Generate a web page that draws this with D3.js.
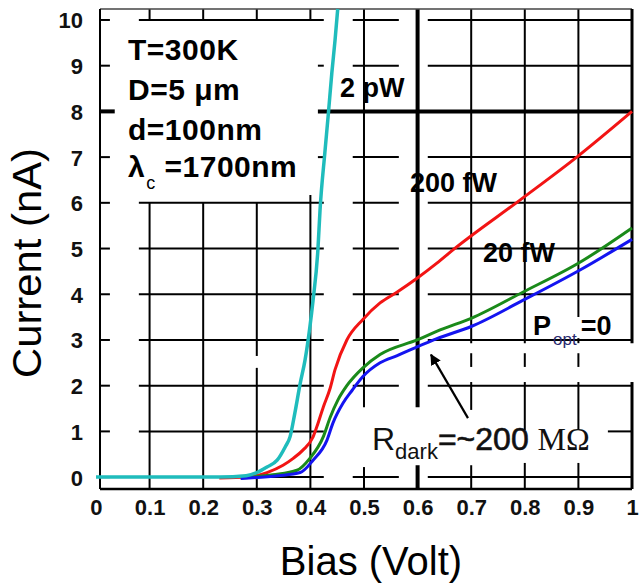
<!DOCTYPE html>
<html>
<head>
<meta charset="utf-8">
<script src="https://cdn.jsdelivr.net/npm/d3@7"></script>
<style>
  html, body { margin: 0; padding: 0; background: #fff; }
  svg { display: block; font-family: "Liberation Sans", Arial, sans-serif; }
</style>
</head>
<body>
<svg id="chart" width="640" height="583"></svg>
<script>
// tick values on both axes
const xTicks = [0, 0.1, 0.2, 0.3, 0.4, 0.5, 0.6, 0.7, 0.8, 0.9, 1];
const xTickLabels = ["0", "0.1", "0.2", "0.3", "0.4", "0.5", "0.6", "0.7", "0.8", "0.9", "1"];
const yTicks = [0, 1, 2, 3, 4, 5, 6, 7, 8, 9, 10];

// I-V curves: [bias (V), current (nA)]
const pw2 = [
  [0, 0], [0.231, 0], [0.28, 0.03], [0.300, 0.1], [0.319, 0.22], [0.338, 0.37],
  [0.353, 0.66], [0.362, 0.88], [0.371, 1.4], [0.381, 2.05], [0.390, 2.56],
  [0.399, 3.28], [0.405, 3.87], [0.414, 4.97], [0.418, 5.84], [0.427, 7.1],
  [0.433, 7.88], [0.440, 8.84], [0.446, 9.56], [0.451, 10.24]
];
const fw200 = [
  [0.23, -0.02], [0.282, 0], [0.319, 0.1], [0.349, 0.26], [0.368, 0.41],
  [0.386, 0.59], [0.405, 0.88], [0.412, 1.1], [0.424, 1.53], [0.437, 1.95],
  [0.446, 2.35], [0.468, 3.0], [0.498, 3.45], [0.530, 3.81], [0.562, 4.05],
  [0.599, 4.35], [0.636, 4.68], [0.666, 4.97], [0.791, 6.06], [0.897, 7.0], [1.0, 8.0]
];
const fw20 = [
  [0.27, -0.02], [0.33, 0.05], [0.375, 0.15], [0.399, 0.41], [0.424, 0.88],
  [0.437, 1.31], [0.451, 1.68], [0.468, 2.0], [0.498, 2.39], [0.530, 2.68],
  [0.599, 3.0], [0.642, 3.22], [0.701, 3.48], [0.797, 4.05], [0.903, 4.7],
  [1.0, 5.45]
];
const dark = [
  [0.27, -0.03], [0.34, 0.03], [0.381, 0.1], [0.405, 0.37], [0.431, 0.81],
  [0.442, 1.18], [0.461, 1.62], [0.478, 1.9], [0.498, 2.2], [0.530, 2.5],
  [0.562, 2.66], [0.599, 2.85], [0.636, 3.03], [0.701, 3.3], [0.797, 3.87],
  [0.903, 4.53], [1.0, 5.2]
];

const seriesList = [
  { name: "200 fW", values: fw200, color: "#f21414" },
  { name: "20 fW", values: fw20, color: "#1a8a1a" },
  { name: "Popt=0", values: dark, color: "#1414f0" },
  { name: "2 pW", values: pw2, color: "#1fbcbc" }
];

const svg = d3.select("#chart");

const x = d3.scaleLinear().domain([0.0075, 1]).range([100, 632]);
const y = d3.scaleLinear().domain([-0.26, 10.24]).range([489, 9]);
const X0 = x.domain()[0], X1 = 1, Y0 = y.domain()[0], Y1 = y.domain()[1];

// the grid in the source is broken up by label boxes; segments in data units
function hSegments(v) {
  if (v === 8) return [[X0, 0.035], [0.414, X1]];
  if (v === 7 || v === 9) return [[X0, 0.026], [0.414, 0.425], [0.479, 0.565], [0.619, X1]];
  if (v === 1) return [[X0, 0.026], [0.080, 0.425], [0.955, X1]];
  return [[X0, 0.026], [0.080, 0.425], [0.479, 0.565], [0.619, X1]];
}
function vSegments(v) {
  if (v < 0.25) return [[10.0, Y1], [Y0, 6.0]];
  if (v < 0.35) return [[10.0, Y1], [2.65, 6.0], [Y0, 2.39]];
  if (v < 0.45) return [[10.0, Y1], [Y0, 6.17]];
  if (v < 0.55) return [[1.53, Y1], [Y0, 0.22]];
  if (v < 0.65) return [[1.53, Y1], [Y0, 0.26]];
  if (v < 0.75) return [[2.93, Y1], [2.41, 2.71], [1.47, 2.08], [Y0, 0.26]];
  if (v < 0.85) return [[2.93, Y1], [2.41, 2.71], [1.03, 2.08], [Y0, 0.31]];
  return [[3.5, Y1], [2.93, 3.04], [2.41, 2.71], [1.03, 2.08], [Y0, 0.31]];
}

const grid = svg.append("g").attr("stroke", "#000");

yTicks.forEach(v => {
  hSegments(v).forEach(s => {
    grid.append("line")
      .attr("x1", x(s[0])).attr("x2", x(s[1]))
      .attr("y1", y(v)).attr("y2", y(v))
      .attr("stroke-width", v === 8 ? 4 : 2);
  });
});
xTicks.slice(1, 10).forEach(v => {
  vSegments(v).forEach(s => {
    grid.append("line")
      .attr("x1", x(v)).attr("x2", x(v))
      .attr("y1", y(s[0])).attr("y2", y(s[1]))
      .attr("stroke-width", Math.abs(v - 0.6) < 1e-6 ? 4 : 2);
  });
});

// frame
grid.append("line").attr("x1", x(X0)).attr("x2", x(X1)).attr("y1", y(Y1)).attr("y2", y(Y1))
  .attr("stroke", "#444").attr("stroke-width", 1.5);
grid.append("line").attr("x1", x(X0)).attr("x2", x(X0)).attr("y1", y(Y0)).attr("y2", y(Y1))
  .attr("stroke-width", 2);
grid.append("line").attr("x1", x(X0)).attr("x2", x(X1)).attr("y1", y(Y0)).attr("y2", y(Y0))
  .attr("stroke-width", 2.5);
[[2.93, Y1], [Y0, 2.08]].forEach(s => {
  grid.append("line").attr("x1", x(X1)).attr("x2", x(X1))
    .attr("y1", y(s[0])).attr("y2", y(s[1])).attr("stroke-width", 3);
});

// curves
const line = d3.line().x(d => x(d[0])).y(d => y(d[1])).curve(d3.curveMonotoneX);
svg.append("g")
  .selectAll("path")
  .data(seriesList)
  .join("path")
    .attr("d", d => line(d.values))
    .attr("fill", "none")
    .attr("stroke", d => d.color)
    .attr("stroke-width", d => d.name === "2 pW" ? 3.5 : 3)
    .attr("stroke-linejoin", "round");

// axes (labels only)
const xAxis = svg.append("g")
  .attr("transform", `translate(0,${y(Y0)})`)
  .call(d3.axisBottom(x).tickValues(xTicks).tickSize(0).tickPadding(10)
    .tickFormat((d, i) => xTickLabels[i]));
const yAxis = svg.append("g")
  .attr("transform", `translate(${x(X0)},0)`)
  .call(d3.axisLeft(y).tickValues(yTicks).tickSize(0).tickPadding(17));
[xAxis, yAxis].forEach(a => {
  a.select(".domain").remove();
  a.selectAll("text")
    .attr("fill", "#111")
    .style("font-family", "'Liberation Sans', Arial, sans-serif")
    .style("font-size", "22px")
    .style("font-weight", "bold");
});
yAxis.selectAll("text").attr("dy", "0.36em");

// axis titles
svg.append("text")
  .attr("x", 371).attr("y", 575)
  .attr("text-anchor", "middle")
  .style("font-size", "40px")
  .text("Bias (Volt)");
svg.append("text")
  .attr("transform", "translate(41,263) rotate(-90)")
  .attr("text-anchor", "middle")
  .attr("textLength", 230).attr("lengthAdjust", "spacingAndGlyphs")
  .style("font-size", "40px")
  .text("Current (nA)");

// parameter block
const info = svg.append("g")
  .style("font-size", "30px").style("font-weight", "bold")
  .style("letter-spacing", "0.5px");
info.append("text").attr("x", 128).attr("y", 60).text("T=300K");
info.append("text").attr("x", 128).attr("y", 100).text("D=5 μm");
info.append("text").attr("x", 128).attr("y", 140).text("d=100nm");
const lam = info.append("text").attr("x", 128).attr("y", 177);
lam.append("tspan").text("λ");
lam.append("tspan").attr("dy", 12).attr("dx", 1).style("font-size", "18px").style("font-weight", "normal").text("c");
lam.append("tspan").attr("dy", -12).text(" =1700nm");

// curve labels
const lab = svg.append("g").style("font-size", "27px").style("font-weight", "bold");
lab.append("text").attr("x", 340).attr("y", 97).text("2 pW");
lab.append("text").attr("x", 410).attr("y", 192).text("200 fW");
lab.append("text").attr("x", 483).attr("y", 262).text("20 fW");
const popt = lab.append("text").attr("x", 533).attr("y", 335);
popt.append("tspan").text("P");
popt.append("tspan").attr("dy", 10).attr("dx", 2)
  .style("font-size", "17px").style("font-weight", "normal").attr("fill", "#2a2a70").text("opt");
popt.append("tspan").attr("dy", -10).attr("dx", 4).text("=0");

// dark resistance note with arrow
const rd = svg.append("text").attr("x", 372).attr("y", 450)
  .style("font-size", "32px").attr("fill", "#111");
rd.append("tspan").text("R");
rd.append("tspan").attr("dy", 9).style("font-size", "22px").text("dark");
rd.append("tspan").attr("dy", -9).attr("stroke", "#111").attr("stroke-width", 0.6).text("=~200 ");
rd.append("tspan").style("font-family", "'Liberation Serif', 'Times New Roman', serif").text("MΩ");

svg.append("defs").append("marker")
  .attr("id", "head").attr("viewBox", "0 0 10 10")
  .attr("refX", 9).attr("refY", 5)
  .attr("markerWidth", 5).attr("markerHeight", 5)
  .attr("orient", "auto")
  .append("path").attr("d", "M0,0L10,5L0,10z").attr("fill", "#000");
svg.append("line")
  .attr("x1", x(0.694)).attr("y1", y(1.29))
  .attr("x2", x(0.625)).attr("y2", y(2.68))
  .attr("stroke", "#000").attr("stroke-width", 2.2)
  .attr("marker-end", "url(#head)");
</script>
</body>
</html>
